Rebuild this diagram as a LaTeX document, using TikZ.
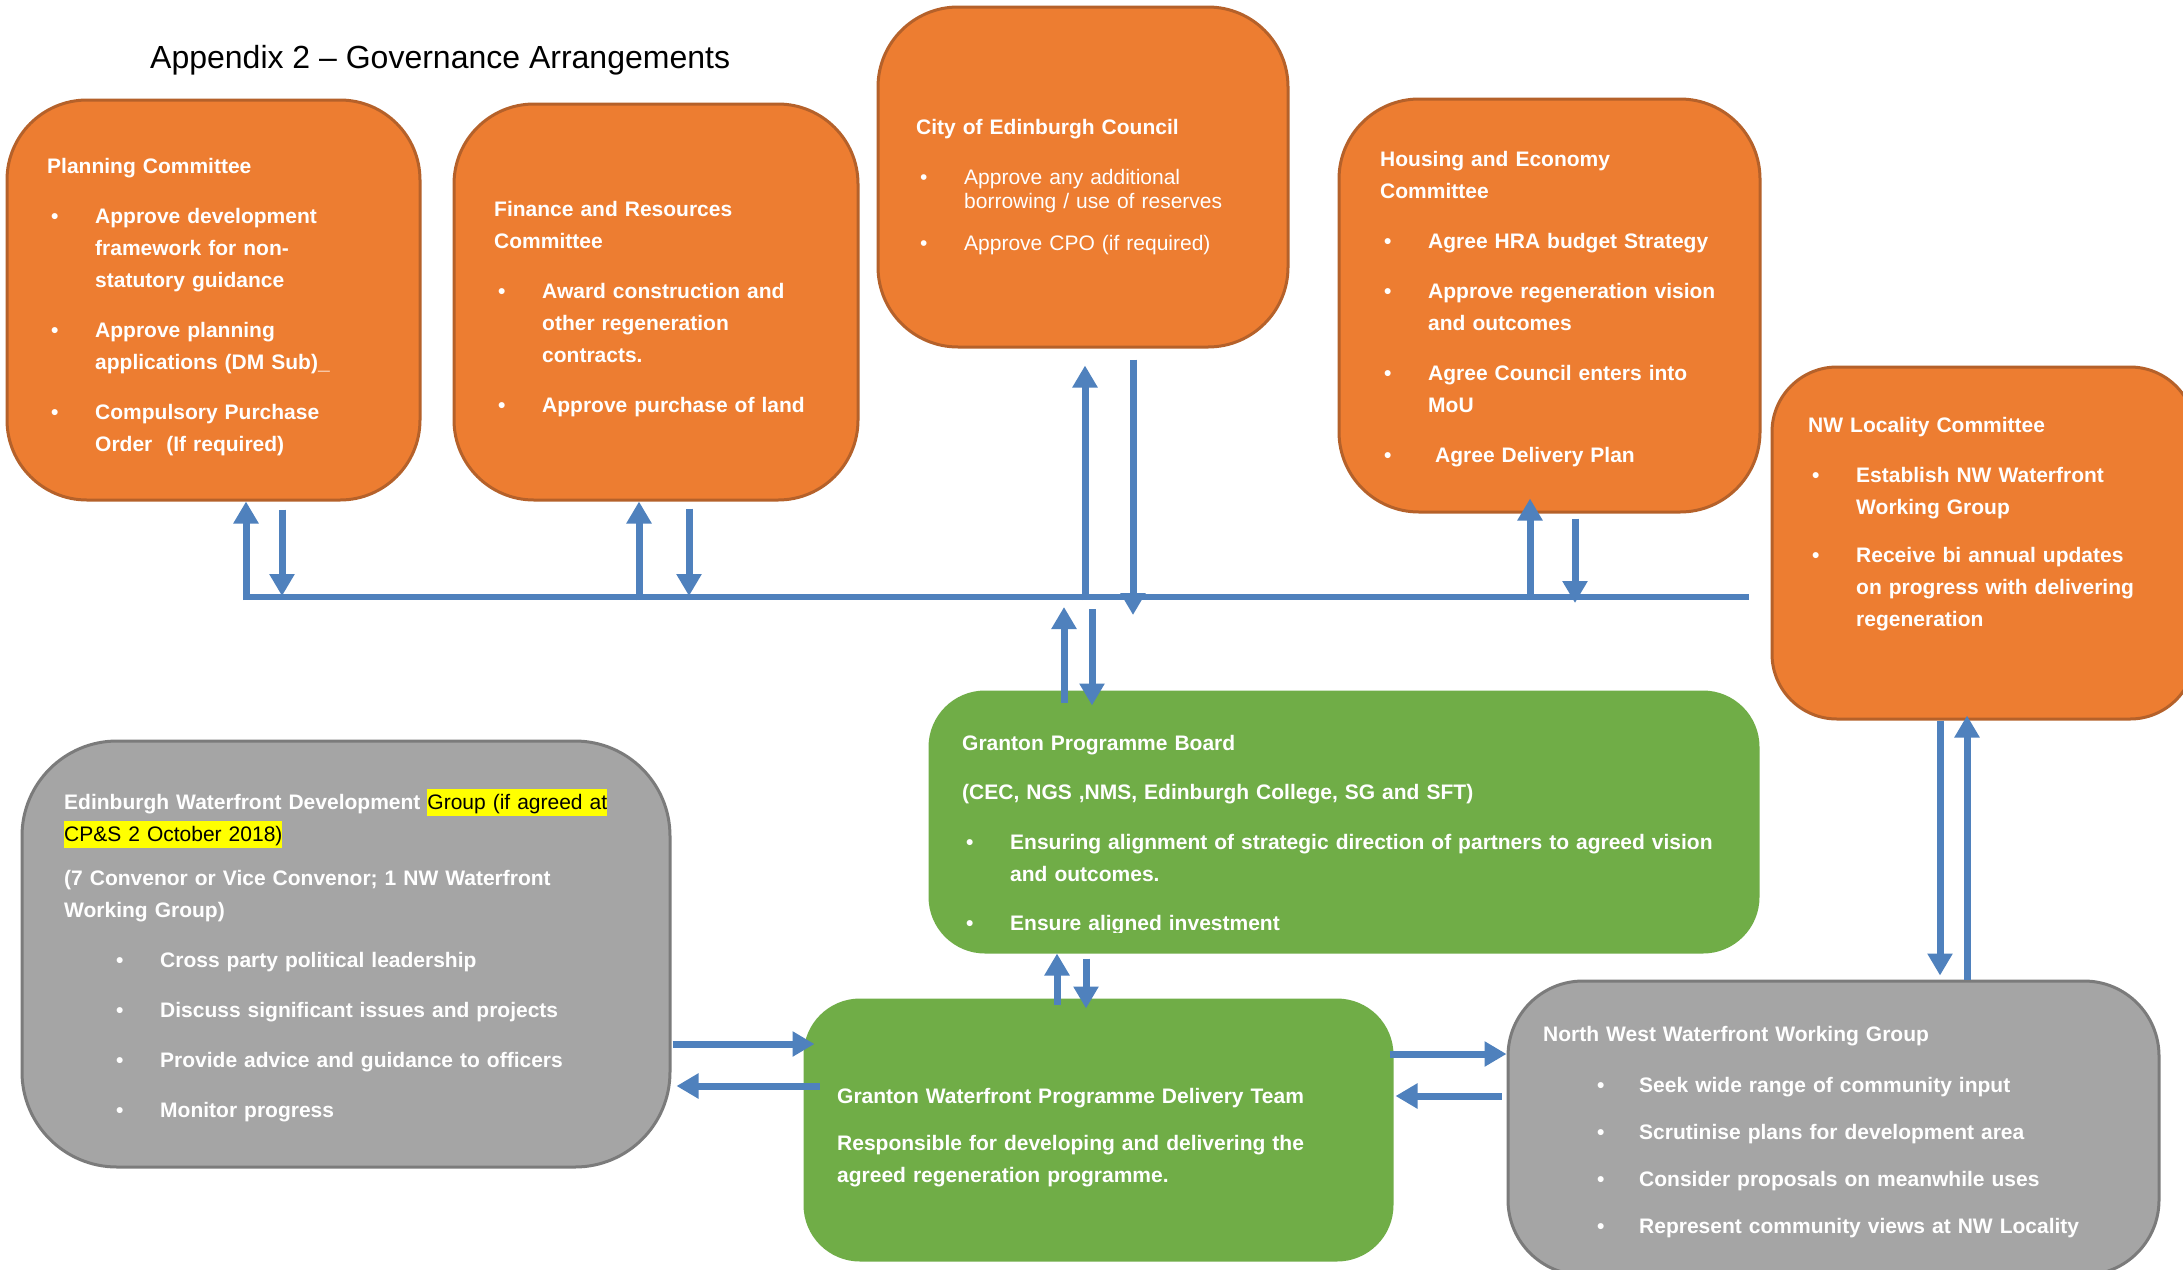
\documentclass[tikz,border=0pt]{standalone}
\usepackage{fontspec}
\setmainfont{Liberation Sans}
\usetikzlibrary{arrows.meta,calc}
\definecolor{orangefill}{HTML}{ED7D31}
\definecolor{orangeline}{HTML}{B5612A}
\definecolor{greenfill}{HTML}{70AD47}
\definecolor{greyfill}{HTML}{A5A5A5}
\definecolor{greyline}{HTML}{7B7B7B}
\definecolor{arrowblue}{HTML}{4F81BD}
\definecolor{hlyellow}{HTML}{FFFF00}
\newcommand\psk[1]{\setlength\parskip{#1}}
\newcommand\bitem[3]{\par\hangindent=#1\relax\hangafter=1\relax\noindent\makebox[#1][l]{\hspace{#2}\textbullet}#3}
\newcommand\bi[1]{\bitem{48pt}{4pt}{#1}}
\newcommand\hl[1]{{\setlength\fboxsep{0pt}\colorbox{hlyellow}{\rule[-7pt]{0pt}{27pt}\color{black}\mdseries#1}}}
\begin{document}
\begin{tikzpicture}[x=1pt,y=-1pt,
  obox/.style={fill=orangefill, draw=orangeline, line width=3pt, inner sep=0pt, rounded corners=80pt},
  gbox/.style={fill=greenfill, draw=greenfill, line width=3pt, inner sep=0pt, rounded corners=55pt},
  grbox/.style={fill=greyfill, draw=greyline, line width=3pt, inner sep=0pt, rounded corners=80pt},
  txt/.style={anchor=base west, inner sep=0pt, text width=800pt, align=left, text=white, font=\fontsize{21}{32}\selectfont\bfseries},
  arr/.style={draw=arrowblue, line width=7pt, -{Triangle[width=24pt,length=22pt]}},
  busline/.style={draw=arrowblue, line width=6pt}]
\useasboundingbox (0,0) rectangle (2183,1269);
\clip (0,0) rectangle (2183,1269);
\fill[white] (0,0) rectangle (2183,1269);

% title
\node[anchor=base west, inner sep=0pt, font=\fontsize{32}{38}\selectfont] (title) at (150,68) {Appendix 2 – Governance Arrangements};

% boxes
\node[obox, minimum width=413pt, minimum height=400pt] (pc) at (213.5,300) {};
\node[obox, minimum width=404pt, minimum height=396pt] (fr) at (656,302) {};
\node[obox, minimum width=410pt, minimum height=340pt] (cec) at (1083,177) {};
\node[obox, minimum width=421pt, minimum height=413pt] (he) at (1549.5,305.5) {};
\node[obox, minimum width=423pt, minimum height=352pt, rounded corners=65pt] (nwl) at (1983.5,543) {};
\node[gbox, minimum width=828pt, minimum height=260pt] (gpb) at (1344,822) {};
\node[grbox, minimum width=648pt, minimum height=426pt, rounded corners=95pt] (ew) at (346,954) {};
\node[gbox, minimum width=587pt, minimum height=260pt] (gw) at (1098.5,1130) {};
\node[grbox, minimum width=651pt, minimum height=294pt, rounded corners=75pt] (nww) at (1833.5,1128) {};

% texts
\node[txt] (pct) at (47,173) {Planning Committee\psk{18pt}
\bi{Approve development\newline framework for non-\newline statutory guidance}
\bi{Approve planning\newline applications (DM Sub)\_}
\bi{Compulsory Purchase\newline Order\ \ (If required)}\par};

\node[txt] (frt) at (494,216) {Finance and Resources\newline Committee\psk{18pt}
\bi{Award construction and\newline other regeneration\newline contracts.}
\bi{Approve purchase of land}\par};

\node[txt] (cect) at (916,134) {City of Edinburgh Council\psk{26pt}\mdseries\fontsize{21}{24}\selectfont
\bi{Approve any additional\newline borrowing / use of reserves}\psk{18pt}
\bi{Approve CPO (if required)}\par};

\node[txt] (het) at (1380,166) {Housing and Economy\newline Committee\psk{18pt}
\bi{Agree HRA budget Strategy}
\bi{Approve regeneration vision\newline and outcomes}
\bi{Agree Council enters into\newline MoU}
\bi{\ Agree Delivery Plan}\par};

\node[txt] (nwlt) at (1808,432) {NW Locality Committee\psk{18pt}
\bi{Establish NW Waterfront\newline Working Group}\psk{16pt}
\bi{Receive bi annual updates\newline on progress with delivering\newline regeneration}\par};

\begin{scope}
\clip (930,700) rectangle (1758,932);
\node[txt] (gpbt) at (962,750) {Granton Programme Board\psk{17pt}\par
(CEC, NGS ,NMS, Edinburgh College, SG and SFT)\psk{18pt}
\bi{Ensuring alignment of strategic direction of partners to agreed vision\newline and outcomes.}\psk{17pt}
\bi{Ensure aligned investment}\par};
\end{scope}

\node[txt] (ewt) at (64,809) {Edinburgh Waterfront Development \hl{Group (if agreed at}\newline\hl{CP\&S 2 October 2018)}\psk{12pt}\par
(7 Convenor or Vice Convenor; 1 NW Waterfront\newline Working Group)\psk{18pt}
\bitem{96pt}{52pt}{Cross party political leadership}
\bitem{96pt}{52pt}{Discuss significant issues and projects}
\bitem{96pt}{52pt}{Provide advice and guidance to officers}
\bitem{96pt}{52pt}{Monitor progress}\par};

\node[txt] (gwt) at (837,1103) {Granton Waterfront Programme Delivery Team\psk{15pt}\par
Responsible for developing and delivering the\newline agreed regeneration programme.\par};

\node[txt] (nwwt) at (1543,1041) {North West Waterfront Working Group\psk{19pt}
\bitem{96pt}{54pt}{Seek wide range of community input}\psk{15pt}
\bitem{96pt}{54pt}{Scrutinise plans for development area}
\bitem{96pt}{54pt}{Consider proposals on meanwhile uses}
\bitem{96pt}{54pt}{Represent community views at NW Locality}\par};

% bus line
\coordinate (busL) at (243,597);
\coordinate (busR) at (1749,597);
\draw[busline] (busL) -- (busR);

% committees <-> bus
\coordinate (pcU) at (246,600);
\coordinate (pcD) at (282,596);
\draw[arr] (pcU) -- (pcU |- pc.south);
\draw[arr] ($(pcD |- pc.south)+(0,8)$) -- (pcD);

\coordinate (frU) at (639,600);
\coordinate (frD) at (689,596);
\draw[arr] (frU) -- (frU |- fr.south);
\draw[arr] ($(frD |- fr.south)+(0,7)$) -- (frD);

\coordinate (cecU) at (1085,600);
\coordinate (cecD) at (1133,615);
\draw[arr] (cecU) -- ($(cecU |- cec.south)+(0,17)$);
\draw[arr] ($(cecD |- cec.south)+(0,11)$) -- (cecD);

\coordinate (heU) at (1530,600);
\coordinate (heD) at (1575,603);
\draw[arr] (heU) -- ($(heU |- he.south)+(0,-15)$);
\draw[arr] ($(heD |- he.south)+(0,5)$) -- (heD);

% bus <-> programme board
\coordinate (gpbU) at (1064,607);
\coordinate (gpbD) at (1092,609);
\draw[arr] ($(gpbU |- gpb.north)+(0,12)$) -- (gpbU);
\draw[arr] (gpbD) -- ($(gpbD |- gpb.north)+(0,15)$);

% programme board <-> delivery team
\coordinate (gx1) at (1057,980);
\coordinate (gx2) at (1086,980);
\draw[arr] ($(gx1 |- gw.north)+(0,6)$) -- (gx1 |- gpb.south);
\draw[arr] ($(gx2 |- gpb.south)+(0,5)$) -- ($(gx2 |- gw.north)+(0,10)$);

% development group <-> delivery team
\coordinate (ey1) at (700,1044);
\coordinate (ey2) at (700,1086);
\draw[arr] ($(ew.east |- ey1)+(1,0)$) -- ($(gw.west |- ey1)+(11,0)$);
\draw[arr] ($(gw.west |- ey2)+(16,0)$) -- ($(ew.east |- ey2)+(5,0)$);

% delivery team <-> working group
\coordinate (ny1) at (1450,1054);
\coordinate (ny2) at (1450,1096);
\draw[arr] ($(gw.east |- ny1)+(-4,0)$) -- (nww.west |- ny1);
\draw[arr] ($(nww.west |- ny2)+(-5,0)$) -- ($(gw.east |- ny2)+(2,0)$);

% locality committee <-> working group
\coordinate (lx1) at (1940,850);
\coordinate (lx2) at (1967,850);
\draw[arr] (lx1 |- nwl.south) -- ($(lx1 |- nww.north)+(0,-4)$);
\draw[arr] (lx2 |- nww.north) -- ($(lx2 |- nwl.south)+(0,-5)$);
\end{tikzpicture}
\end{document}
